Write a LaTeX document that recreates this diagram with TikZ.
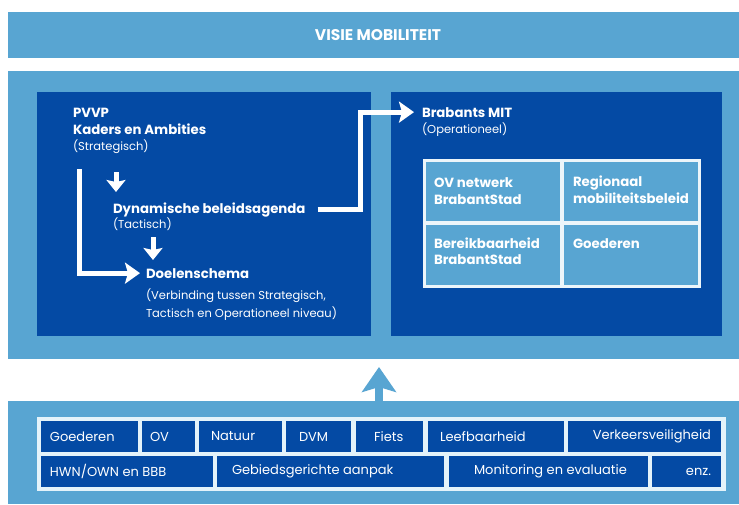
\documentclass[tikz,border=0pt]{standalone}
\usepackage{fontspec}
\setmainfont{Poppins}
\usetikzlibrary{arrows.meta}
\definecolor{lblue}{RGB}{88,165,210}
\definecolor{dblue}{RGB}{4,74,164}
\definecolor{tborder}{RGB}{228,243,250}
\definecolor{gborder}{RGB}{236,245,250}
\newcommand\hdfont{\fontsize{13.3}{15}\selectfont\bfseries}
\newcommand\smfont{\fontsize{11.5}{13}\selectfont}
\newcommand\tbfont{\fontsize{13}{15}\selectfont}
\newcommand\cellL[3]{\makebox[#1pt][l]{\hspace{#2pt}#3}}
\newcommand\cellR[3]{\makebox[#1pt][r]{#3\hspace{#2pt}}}
\tikzset{
  box/.style={inner sep=0pt, outer sep=0pt, anchor=north west},
  txt/.style={inner sep=0pt, outer sep=0pt, anchor=base west, text=white},
  hd/.style={txt, font=\hdfont},
  sm/.style={txt, font=\smfont},
  cell/.style={box, fill=dblue, text=white, minimum height=31pt, font=\tbfont},
  warrow/.style={draw=white, line width=5pt, -{Stealth[length=15pt,width=21pt,inset=3pt]}},
  darrow/.style={draw=white, line width=5pt, -{Stealth[length=12pt,width=19pt,inset=2pt]}},
  uparrow/.style={draw=lblue, line width=8pt, -{Stealth[length=25pt,width=34pt,inset=5pt]}}
}
\begin{document}
\begin{tikzpicture}[x=1pt,y=-1pt]
\useasboundingbox (0,0) rectangle (739,504);
\fill[white] (0,0) rectangle (739,504);
% top band
\node[box, fill=lblue, minimum width=731pt, minimum height=46pt] (band) at (8,12) {};
\node[inner sep=0pt, text=white, font=\fontsize{15.5}{17}\selectfont\bfseries] (visie) at (378,35) {VISIE MOBILITEIT};
% middle panel
\node[box, fill=lblue, minimum width=731pt, minimum height=288pt] (panel) at (8,71) {};
\node[box, fill=dblue, minimum width=334pt, minimum height=244pt] (lbox) at (37,92) {};
\node[box, fill=dblue, minimum width=331pt, minimum height=244pt] (rbox) at (391,92) {};
% left texts
\node[hd] (pvvp) at (73,117) {PVVP};
\node[hd] (kaders) at (73,134) {Kaders en Ambities};
\node[sm] (strat) at (73,150) {(Strategisch)};
\node[hd] (dyn) at (113,213) {Dynamische beleidsagenda};
\node[sm] (tact) at (113,228) {(Tactisch)};
\node[hd] (doel) at (146,278) {Doelenschema};
\node[sm] (verb1) at (146,299) {(Verbinding tussen Strategisch,};
\node[sm] (verb2) at (146,317) {Tactisch en Operationeel niveau)};
% right texts
\node[hd] (mit) at (422,117) {Brabants MIT};
\node[sm] (oper) at (422,133) {(Operationeel)};
% MIT grid
\node[box, fill=gborder, minimum width=278pt, minimum height=129pt] (grid) at (423,159) {};
\node[box, fill=lblue, minimum width=134pt, minimum height=59pt] (g1) at (426,162) {};
\node[box, fill=lblue, minimum width=134pt, minimum height=59pt] (g2) at (564,162) {};
\node[box, fill=lblue, minimum width=134pt, minimum height=60pt] (g3) at (426,225) {};
\node[box, fill=lblue, minimum width=134pt, minimum height=60pt] (g4) at (564,225) {};
\node[hd] (g1a) at (434,187) {OV netwerk};
\node[hd] (g1b) at (434,204) {BrabantStad};
\node[hd] (g2a) at (573,186) {Regionaal};
\node[hd] (g2b) at (573,203) {mobiliteitsbeleid};
\node[hd] (g3a) at (434,248) {Bereikbaarheid};
\node[hd] (g3b) at (434,264) {BrabantStad};
\node[hd] (g4a) at (573,248) {Goederen};
% arrows in left box
\coordinate (kstart) at (79,169);
\draw[warrow, shorten >=6pt] (kstart) |- (doel.west);
\coordinate (d1s) at (116,172);
\coordinate (d1e) at (116,192);
\draw[darrow] (d1s) -- (d1e);
\coordinate (d2s) at (153,237);
\coordinate (d2e) at (153,260);
\draw[darrow] (d2s) -- (d2e);
\coordinate (bend) at (360,150);
\draw[warrow, shorten >=8pt] ([xshift=12pt]dyn.east) -- (dyn.east -| bend) |- (mit.west);
% bottom panel
\node[box, fill=lblue, minimum width=731pt, minimum height=103pt] (bpanel) at (8,401) {};
\coordinate (upstart) at (379,401);
\coordinate (uptip) at (379,367);
\draw[uparrow] (upstart) -- (uptip);
\node[box, fill=tborder, minimum width=689pt, minimum height=74pt] (table) at (37,417) {};
% row 1
\node[cell] (t1) at (41,421) {\cellL{97}{9}{Goederen}};
\node[cell] (t2) at (142,421) {\cellL{53}{8}{OV}};
\node[cell] (t3) at (199,421) {\cellL{83}{12}{Natuur}};
\node[cell] (t4) at (286,421) {\cellL{65}{13}{DVM}};
\node[cell] (t5) at (356,421) {\cellL{67}{18}{Fiets}};
\node[cell] (t6) at (428,421) {\cellL{136}{12}{Leefbaarheid}};
\node[cell] (t7) at (568,421) {\cellR{153}{10}{Verkeersveiligheid}};
% row 2
\node[cell] (u1) at (41,456) {\cellL{172}{9}{HWN/OWN en BBB}};
\node[cell] (u2) at (217,456) {\cellL{227}{15}{Gebiedsgerichte aanpak}};
\node[cell] (u3) at (449,456) {\cellL{199}{25}{Monitoring en evaluatie}};
\node[cell] (u4) at (652,456) {\cellR{69}{10}{enz.}};
\end{tikzpicture}
\end{document}
